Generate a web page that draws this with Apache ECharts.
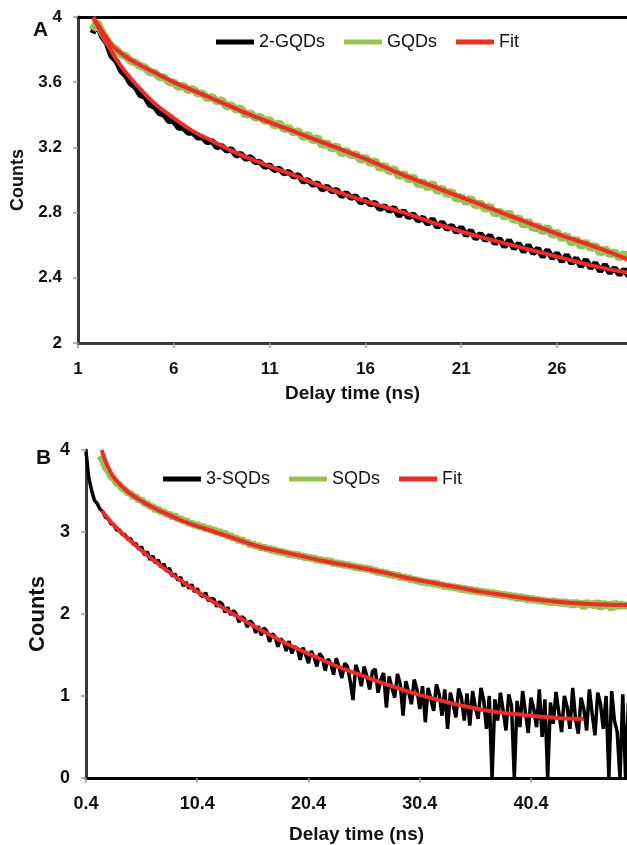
<!DOCTYPE html>
<html><head><meta charset="utf-8">
<script src="https://cdn.jsdelivr.net/npm/echarts@6/dist/echarts.min.js"></script>
<style>html,body{margin:0;padding:0;background:#fff}#c{width:627px;height:845px}</style>
</head><body><div id="c"></div>
<script>
// ---------- Panel A data (Delay time in ns, Counts) ----------
const gqd2Start = 1.75, gqd2Step = 0.25;
const gqd2Values = [3.90,3.96,3.88,3.84,3.76,3.73,3.67,3.64,3.59,3.57,3.52,3.51,3.46,3.45,3.41,3.40,3.36,3.36,3.32,3.32,3.29,3.29,3.26,3.26,3.23,3.24,3.20,3.21,3.18,3.19,3.15,3.16,3.13,3.14,3.11,3.11,3.08,3.09,3.06,3.07,3.04,3.05,3.02,3.03,2.99,3.00,2.97,2.98,2.94,2.96,2.93,2.94,2.90,2.92,2.89,2.90,2.86,2.88,2.85,2.86,2.82,2.84,2.81,2.83,2.78,2.81,2.77,2.79,2.75,2.77,2.73,2.76,2.71,2.74,2.70,2.72,2.68,2.71,2.66,2.69,2.64,2.67,2.63,2.66,2.61,2.64,2.59,2.63,2.58,2.61,2.56,2.60,2.55,2.58,2.53,2.57,2.52,2.55,2.50,2.54,2.49,2.52,2.47,2.51,2.46,2.49,2.44,2.48,2.43,2.46,2.42,2.45,2.41];
const gqdStart = 1.75, gqdStep = 0.25;
const gqdValues = [3.92,3.97,3.91,3.86,3.82,3.80,3.77,3.76,3.73,3.72,3.70,3.69,3.66,3.66,3.63,3.63,3.60,3.60,3.57,3.58,3.55,3.56,3.53,3.53,3.50,3.51,3.48,3.49,3.45,3.46,3.43,3.44,3.40,3.41,3.38,3.39,3.36,3.37,3.33,3.35,3.31,3.32,3.29,3.30,3.26,3.28,3.24,3.26,3.21,3.23,3.19,3.21,3.16,3.18,3.15,3.16,3.12,3.14,3.10,3.12,3.07,3.09,3.05,3.07,3.02,3.04,3.00,3.02,2.97,2.99,2.95,2.98,2.93,2.95,2.91,2.93,2.88,2.90,2.86,2.89,2.84,2.86,2.82,2.84,2.79,2.81,2.77,2.80,2.75,2.77,2.72,2.75,2.70,2.72,2.68,2.71,2.66,2.68,2.64,2.66,2.61,2.64,2.59,2.62,2.58,2.60,2.55,2.58,2.54,2.56,2.52,2.55,2.51];
const fitA1 = [[1.8,3.99],[2,3.95],[2.5,3.84],[3,3.74],[3.5,3.66],[4,3.59],[5,3.47],[6,3.38],[7,3.30],[8,3.24],[9,3.18],[10,3.13],[12,3.04],[14,2.95],[16,2.87],[18,2.80],[20,2.72],[22,2.65],[24,2.59],[26,2.53],[28,2.47],[29.75,2.43]];
const fitA2 = [[1.8,4.0],[2,3.96],[2.5,3.87],[3,3.80],[4,3.72],[5,3.66],[6,3.60],[7,3.55],[8,3.50],[9,3.45],[10,3.40],[12,3.31],[14,3.22],[16,3.13],[18,3.03],[20,2.94],[22,2.85],[24,2.76],[26,2.67],[28,2.59],[29.75,2.51]];

// ---------- Panel B data ----------
const sqd3Start = 0.4, sqd3Step = 0.25;
const sqd3Values = [3.98,3.66,3.51,3.39,3.35,3.28,3.25,3.18,3.16,3.10,3.09,3.02,3.03,2.97,2.97,2.91,2.92,2.85,2.86,2.79,2.82,2.72,2.76,2.66,2.71,2.62,2.66,2.57,2.61,2.52,2.56,2.46,2.49,2.41,2.45,2.34,2.39,2.31,2.36,
  2.27,2.31,2.24,2.21,2.26,2.16,2.19,2.18,2.09,2.15,2.12,2.02,2.08,1.99,2.04,2.00,1.90,1.97,1.94,1.84,1.92,1.88,1.77,1.85,1.74,1.83,1.79,1.66,1.76,1.72,1.60,1.70,1.66,1.55,1.67,1.52,1.60,1.58,1.44,1.59,1.50,1.40,1.55,1.48,1.36,1.52,1.47,1.31,1.45,1.40,1.26,1.46,1.35,1.22,1.40,1.36,1.18,0.95,1.38,1.28,1.12,1.36,1.24,1.08,1.30,1.33,1.04,1.20,1.28,0.86,1.24,1.10,0.98,1.27,1.14,0.76,1.18,1.05,0.90,1.20,1.08,0.84,1.12,0.68,1.10,0.96,0.82,1.14,1.02,0.76,1.08,0.60,1.04,0.90,0.74,1.09,0.98,0.70,1.03,0.64,1.06,0.86,0.72,1.10,0.95,0.60,1.00,0.00,0.96,0.70,1.04,0.82,0.58,1.02,0.88,0.00,0.94,0.62,1.06,0.80,0.55,0.98,0.84,0.62,1.08,0.50,0.96,0.00,0.92,0.66,1.05,0.80,0.56,1.00,0.86,0.60,1.10,0.72,0.54,0.98,0.84,0.58,1.08,0.78,0.52,1.04,0.90,0.60,1.00,0.00,1.06,0.70,0.56,0.00,1.02,0.00,0.92];
const sqdStart = 1.65, sqdStep = 0.25;
const sqdValues = [3.93,3.87,3.78,3.74,3.67,3.65,3.59,3.58,3.53,3.52,3.47,3.48,3.42,3.44,3.38,3.40,3.34,3.36,3.30,3.32,3.26,3.29,3.23,3.26,3.20,3.23,3.17,3.21,3.15,3.17,3.12,3.15,3.09,3.12,3.07,3.10,3.05,3.08,3.03,3.06,3.01,3.04,2.98,3.02,2.96,3.00,2.93,2.97,2.91,2.94,2.88,2.92,2.86,2.89,2.83,2.87,2.81,2.85,2.79,2.83,2.78,2.81,2.76,2.80,2.74,2.78,2.73,2.76,2.71,2.75,2.70,2.74,2.69,2.72,2.67,2.71,2.66,2.70,2.64,2.68,2.63,2.67,2.62,2.66,2.60,2.64,2.59,2.63,2.58,2.62,2.57,2.60,2.55,2.59,2.54,2.58,2.53,2.57,2.51,2.55,2.49,2.53,2.48,2.52,2.46,2.50,2.45,2.49,2.43,2.47,2.42,2.46,2.40,2.44,2.39,2.42,2.37,2.41,2.36,2.40,2.35,2.39,2.34,2.37,2.32,2.36,2.31,2.35,2.30,2.34,2.28,2.33,2.27,2.32,2.26,2.31,2.25,2.30,2.24,2.29,2.23,2.28,2.22,2.27,2.21,2.26,2.20,2.25,2.19,2.24,2.17,2.23,2.17,2.22,2.15,2.21,2.15,2.20,2.14,2.19,2.13,2.18,2.12,2.18,2.12,2.17,2.11,2.17,2.10,2.16,2.09,2.16,2.10,2.15,2.07,2.16,2.09,2.15,2.08,2.16,2.06,2.15,2.08,2.14,2.05,2.15,2.07,2.14,2.08,2.13,2.07];
const fitB1 = [[1.83,3.26],[3,3.07],[5,2.82],[7,2.60],[9,2.40],[11,2.22],[13,2.05],[15,1.89],[17,1.74],[19,1.60],[21,1.48],[23,1.36],[25,1.26],[27,1.16],[29,1.07],[31,0.99],[33,0.92],[35,0.86],[37,0.81],[39,0.78],[41,0.75],[43,0.73],[45.1,0.72]];
const fitB2 = [[1.83,4.0],[2,3.92],[2.5,3.76],[3,3.65],[4,3.51],[5,3.41],[6,3.33],[7,3.26],[8,3.20],[9,3.14],[10,3.09],[12,3.00],[14,2.91],[16,2.82],[18,2.76],[20,2.70],[22,2.64],[24,2.59],[26,2.54],[28,2.48],[30,2.42],[32,2.37],[34,2.32],[36,2.27],[38,2.23],[40,2.19],[42,2.16],[44.5,2.13],[46,2.12],[49.15,2.11]];

const pairs = (t0, dt, vals) => vals.map((v, i) => [+(t0 + i * dt).toFixed(3), v]);

const FONT = "'Liberation Sans', Arial, sans-serif";
const BLACK = '#000000', GREEN = '#9bbf55', RED = '#ea2d2a';

function xAxisFor(gi, min, max, interval, labelSize, nameGap, margin) {
  return {
    type: 'value', gridIndex: gi, min, max, interval, position: 'bottom',
    name: 'Delay time (ns)', nameLocation: 'middle', nameGap,
    nameTextStyle: { fontFamily: FONT, fontWeight: 'bold', fontSize: 19, color: '#111' },
    axisLine: { show: true, onZero: false, lineStyle: { color: '#3a3a3a', width: 3 } },
    axisTick: { show: true, inside: false, length: 5, lineStyle: { color: '#999', width: 1.5 } },
    axisLabel: { fontFamily: FONT, fontWeight: 'bold', fontSize: labelSize, color: '#111', margin, showMaxLabel: false },
    splitLine: { show: false }
  };
}
function topAxis(gi, min, max) {
  return { type: 'value', gridIndex: gi, min, max, position: 'top',
    axisLine: { show: true, lineStyle: { color: '#000', width: 3 } },
    axisTick: { show: false }, axisLabel: { show: false }, splitLine: { show: false } };
}
function yAxisFor(gi, min, max, interval, labelSize, nameSize, nameGap) {
  return {
    type: 'value', gridIndex: gi, min, max, interval,
    name: 'Counts', nameLocation: 'middle', nameGap,
    nameTextStyle: { fontFamily: FONT, fontWeight: 'bold', fontSize: nameSize, color: '#111' },
    axisLine: { show: true, onZero: false, lineStyle: { color: '#3a3a3a', width: 3 } },
    axisTick: { show: true, inside: false, length: 5, lineStyle: { color: '#999', width: 1.5 } },
    axisLabel: { fontFamily: FONT, fontWeight: 'bold', fontSize: labelSize, color: '#111', margin: 16 },
    splitLine: { show: false }
  };
}
function line(name, xi, yi, data, color, width, smooth, z) {
  return { type: 'line', name, xAxisIndex: xi, yAxisIndex: yi, data, showSymbol: false,
    symbol: 'none', smooth, clip: true, z, lineStyle: { color, width }, itemStyle: { color } };
}
const legendBase = {
  orient: 'horizontal', icon: 'rect', itemWidth: 38, itemHeight: 5, itemGap: 19, padding: 0,
  textStyle: { fontFamily: FONT, fontSize: 18, color: '#111' },
  selectedMode: false
};

const option = {
  animation: false,
  backgroundColor: '#fff',
  grid: [
    { left: 78, right: 0, top: 17, bottom: 502 },
    { left: 86, right: 0, top: 450, bottom: 67 }
  ],
  xAxis: [
    xAxisFor(0, 1, 29.65, 5, 17, 41, 18),
    xAxisFor(1, 0.4, 49.03, 10, 18, 47, 17),
    topAxis(0, 1, 29.65),
    topAxis(1, 0.4, 49.03)
  ],
  yAxis: [
    yAxisFor(0, 2, 4, 0.4, 17, 18, 47),
    yAxisFor(1, 0, 4, 1, 18, 22, 32)
  ],
  legend: [
    Object.assign({}, legendBase, { left: 216, top: 33, data: ['2-GQDs', 'GQDs', 'Fit'] }),
    Object.assign({}, legendBase, { left: 163, top: 470, data: ['3-SQDs', 'SQDs', 'Fit'] })
  ],
  graphic: [
    { type: 'text', left: 33, top: 20, style: { text: 'A', font: "bold 21px 'Liberation Sans', Arial, sans-serif", fill: '#111' } },
    { type: 'text', left: 36, top: 448, style: { text: 'B', font: "bold 21px 'Liberation Sans', Arial, sans-serif", fill: '#111' } }
  ],
  series: [
    line('2-GQDs', 0, 0, pairs(gqd2Start, gqd2Step, gqd2Values), BLACK, 6, false, 2),
    line('GQDs', 0, 0, pairs(gqdStart, gqdStep, gqdValues), GREEN, 8, false, 2),
    line('Fit', 0, 0, fitA1, RED, 4, true, 3),
    line('Fit', 0, 0, fitA2, RED, 4, true, 3),
    line('3-SQDs', 1, 1, pairs(sqd3Start, sqd3Step, sqd3Values), BLACK, 3.5, false, 2),
    line('SQDs', 1, 1, pairs(sqdStart, sqdStep, sqdValues), GREEN, 7, false, 2),
    line('Fit', 1, 1, fitB1, RED, 4, true, 3),
    line('Fit', 1, 1, fitB2, RED, 4, true, 3)
  ]
};
const chart = echarts.init(document.getElementById('c'), null, { renderer: 'canvas' });
chart.setOption(option);
</script></body></html>
